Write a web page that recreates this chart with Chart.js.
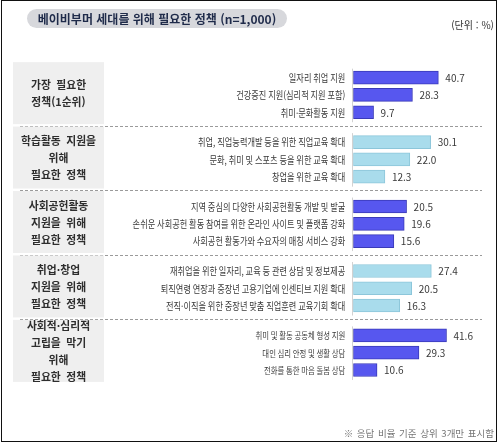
<!DOCTYPE html>
<html lang="ko">
<head>
<meta charset="utf-8">
<script src="https://cdn.jsdelivr.net/npm/chart.js@4/dist/chart.umd.min.js"></script>
<style>
  html,body{margin:0;padding:0;background:#fff;}
  #wrap{position:relative;width:500px;height:445px;overflow:hidden;font-family:'Noto Sans CJK KR','Noto Sans',sans-serif;}
  #frame{position:absolute;left:1px;top:0px;width:494px;height:440px;border:1.5px solid #111;}
  #title{position:absolute;left:27px;top:9px;width:260px;height:19px;line-height:19px;border-radius:10px;background:#d7d8dc;color:#1f2b4a;font-weight:bold;font-size:12px;text-align:center;white-space:nowrap;}
  #unit{position:absolute;right:6px;top:17px;font-size:10px;color:#333;white-space:nowrap;}
  #note{position:absolute;right:6px;top:426px;font-size:9.5px;color:#777;white-space:nowrap;word-spacing:1px;}
  canvas{position:absolute;left:0;top:0;}
</style>
</head>
<body>
<div id="wrap">
  <canvas id="c" width="500" height="445"></canvas>
  <div id="frame"></div>
  <div id="title">베이비부머 세대를 위해 필요한 정책 (n=1,000)</div>
  <div id="unit">(단위 : %)</div>
  <div id="note">※ 응답 비율 기준 상위 3개만 표시함</div>
</div>
<script>
// ---- data ----
const groupTitles = [
  ['가장 필요한', '정책(1순위)'],
  ['학습활동 지원을', '위해', '필요한 정책'],
  ['사회공헌활동', '지원을 위해', '필요한 정책'],
  ['취업·창업', '지원을 위해', '필요한 정책'],
  ['사회적·심리적', '고립을 막기', '위해', '필요한 정책']
];
const labels1 = ['일자리 취업 지원', '건강증진 지원(심리적 지원 포함)', '취미·문화활동 지원'];
const values1 = [40.7, 28.3, 9.7];
const labels2 = ['취업, 직업능력개발 등을 위한 직업교육 확대', '문화, 취미 및 스포츠 등을 위한 교육 확대', '창업을 위한 교육 확대'];
const values2 = [30.1, 22.0, 12.3];
const labels3 = ['지역 중심의 다양한 사회공헌활동 개발 및 발굴', '손쉬운 사회공헌 활동 참여를 위한 온라인 사이트 및 플랫폼 강화', '사회공헌 활동가와 수요자의 매칭 서비스 강화'];
const values3 = [20.5, 19.6, 15.6];
const labels4 = ['재취업을 위한 일자리, 교육 등 관련 상담 및 정보제공', '퇴직연령 연장과 중장년 고용기업에 인센티브 지원 확대', '전직·이직을 위한 중장년 맞춤 직업훈련 교육기회 확대'];
const values4 = [27.4, 20.5, 16.3];
const labels5 = ['취미 및 활동 공동체 형성 지원', '대인 심리 안정 및 생활 상담', '전화를 통한 마음 돌봄 상담'];
const values5 = [41.6, 29.3, 10.6];

const allLabels = [labels1, labels2, labels3, labels4, labels5];
const allValues = [values1, values2, values3, values4, values5];

// ---- styles / layout ----
const DARK = '#5757ef', DARK_B = '#3a3ab8';
const LIGHT = '#a9dcec', LIGHT_B = '#8cc6da';
const fills = [DARK, LIGHT, DARK, LIGHT, DARK];
const borders = [DARK_B, LIGHT_B, DARK_B, LIGHT_B, DARK_B];
const axisMax = [65.4, 53.2, 52.6, 48.0, 61.0];     // each panel had its own scale
const labelFont = [10, 10, 10, 10, 9];
const GROUP_STRIDE = 3.73;
const FONT = "'Noto Sans CJK KR','Noto Sans',sans-serif";

const datasets = allValues.map((vals, g) => ({
  data: vals.map((v, i) => ({ x: v, y: g * GROUP_STRIDE + i })),
  xAxisID: 'x' + g,
  yAxisID: 'y',
  backgroundColor: fills[g],
  borderColor: borders[g],
  borderWidth: 1,
  borderSkipped: false,
  barThickness: 13,
  grouped: false
}));

const scales = { y: { type: 'linear', reverse: true, min: -1.5, max: 18.5, display: false } };
axisMax.forEach((m, g) => { scales['x' + g] = { type: 'linear', min: 0, max: m, display: false }; });

const decor = {
  id: 'decor',
  beforeDatasetsDraw(chart) {
    const ctx = chart.ctx, ca = chart.chartArea;
    ctx.save();
    for (let g = 0; g < 5; g++) {
      const bars = chart.getDatasetMeta(g).data;
      const yMid = bars[1].y;
      const boxC = yMid - 1.8;
      ctx.fillStyle = '#efefef';
      ctx.fillRect(13, boxC - 31, 91, 62);
      ctx.fillStyle = '#2e2e2e';
      ctx.font = 'bold 10.8px ' + FONT;
      ctx.textAlign = 'center';
      ctx.textBaseline = 'middle';
      try { ctx.wordSpacing = '3px'; } catch (e) {}
      const lines = groupTitles[g];
      const n = lines.length;
      lines.forEach((t, k) => {
        ctx.fillText(t, 58.5, boxC + 0.5 + (k - (n - 1) / 2) * 17);
      });
      try { ctx.wordSpacing = '0px'; } catch (e) {}
      ctx.strokeStyle = '#d2d2d2';
      ctx.lineWidth = 1;
      ctx.beginPath();
      ctx.moveTo(Math.round(ca.left) - 0.5, bars[0].y - 9);
      ctx.lineTo(Math.round(ca.left) - 0.5, bars[2].y + 10);
      ctx.stroke();
      if (g < 4) {
        const next = chart.getDatasetMeta(g + 1).data[0].y;
        const yy = Math.round((bars[2].y + next) / 2 - 1.5) + 0.5;
        ctx.strokeStyle = '#9a9a9a';
        ctx.setLineDash([3, 2]);
        ctx.beginPath();
        ctx.moveTo(20, yy);
        ctx.lineTo(482, yy);
        ctx.stroke();
        ctx.setLineDash([]);
      }
    }
    ctx.restore();
  },
  afterDatasetsDraw(chart) {
    const ctx = chart.ctx, ca = chart.chartArea;
    ctx.save();
    ctx.textBaseline = 'middle';
    for (let g = 0; g < 5; g++) {
      const bars = chart.getDatasetMeta(g).data;
      bars.forEach((b, i) => {
        ctx.save();
        ctx.fillStyle = '#3a3a3a';
        ctx.font = labelFont[g] + 'px ' + FONT;
        ctx.textAlign = 'right';
        ctx.translate(ca.left - 8, b.y);
        ctx.scale(0.82, 1);
        ctx.fillText(allLabels[g][i], 0, 0.5);
        ctx.restore();
        ctx.fillStyle = '#3a3a3a';
        ctx.font = '10px ' + FONT;
        ctx.textAlign = 'left';
        ctx.fillText(allValues[g][i].toFixed(1), b.x + 7, b.y + 0.5);
      });
    }
    ctx.restore();
  }
};

new Chart(document.getElementById('c'), {
  type: 'bar',
  data: { datasets },
  options: {
    indexAxis: 'y',
    responsive: false,
    animation: false,
    devicePixelRatio: 1,
    layout: { padding: { left: 353.3, right: 10, top: 17.2, bottom: 13.2 } },
    scales,
    plugins: { legend: { display: false }, tooltip: { enabled: false }, title: { display: false } }
  },
  plugins: [decor]
});
</script>
</body>
</html>
